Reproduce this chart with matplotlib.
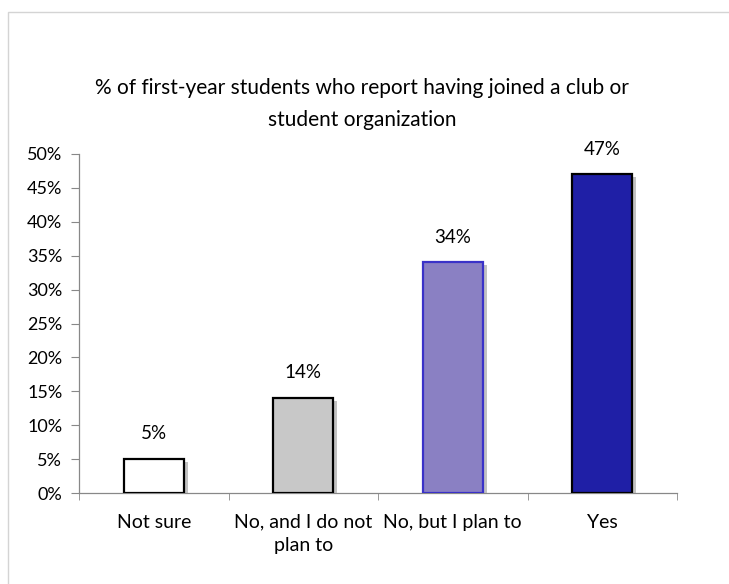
import matplotlib.pyplot as plt
import matplotlib.patheffects as pe
from matplotlib.patches import Rectangle
from matplotlib.ticker import FixedLocator, PercentFormatter

plt.rcParams['font.family'] = ['Lato', 'DejaVu Sans']

CATEGORIES = ['Not sure', 'No, and I do not\nplan to', 'No, but I plan to', 'Yes']
PERCENTS = [5, 14, 34, 47]
FACE_COLORS = ['#ffffff', '#c8c8c8', '#8a80c3', '#1f1fa6']
EDGE_COLORS = ['#000000', '#000000', '#3a32c8', '#000000']
TITLE = '% of first-year students who report having joined a club or\nstudent organization'

fig = plt.figure(figsize=(7.29, 5.84), dpi=100)
fig.patches.append(Rectangle((8 / 729, -0.05), 1.0, 1 - 12 / 584 + 0.05,
                             transform=fig.transFigure, fill=False,
                             edgecolor='#d4d4d4', linewidth=1.0))

ax = fig.add_axes([79 / 729, 1 - 493 / 584, (677 - 79) / 729, (493 - 154) / 584])
x = list(range(len(CATEGORIES)))
shadow = [pe.SimplePatchShadow(offset=(3, -2), shadow_rgbFace='#9a9a9a', alpha=0.6), pe.Normal()]
bars = ax.bar(x, PERCENTS, width=0.4, color=FACE_COLORS, edgecolor=EDGE_COLORS,
              linewidth=1.6, zorder=3)
for b in bars:
    b.set_path_effects(shadow)

for xi, v in zip(x, PERCENTS):
    ax.annotate(f'{v}%', (xi, v), xytext=(0, 12), textcoords='offset points',
                ha='center', va='bottom', fontsize=13.5)

ax.set_xlim(-0.5, len(CATEGORIES) - 0.5)
ax.set_ylim(0, 50)
ax.set_yticks(range(0, 51, 5))
ax.yaxis.set_major_formatter(PercentFormatter(decimals=0))
ax.set_xticks(x)
ax.set_xticklabels(CATEGORIES, fontsize=14, linespacing=1.45)
ax.xaxis.set_minor_locator(FixedLocator([i - 0.5 for i in range(len(CATEGORIES) + 1)]))
ax.tick_params(axis='x', which='major', length=0, pad=15)
ax.tick_params(axis='x', which='minor', length=5, color='#888888', direction='out')
ax.tick_params(axis='y', length=6, color='#888888', labelsize=13, pad=6)

for side in ['top', 'right']:
    ax.spines[side].set_visible(False)
for side in ['left', 'bottom']:
    ax.spines[side].set_color('#888888')
    ax.spines[side].set_linewidth(0.9)

fig.text(362 / 729, 1 - 104 / 584, TITLE, ha='center', va='center',
         fontsize=15, linespacing=1.75)

fig.savefig('out.png', dpi=100)
